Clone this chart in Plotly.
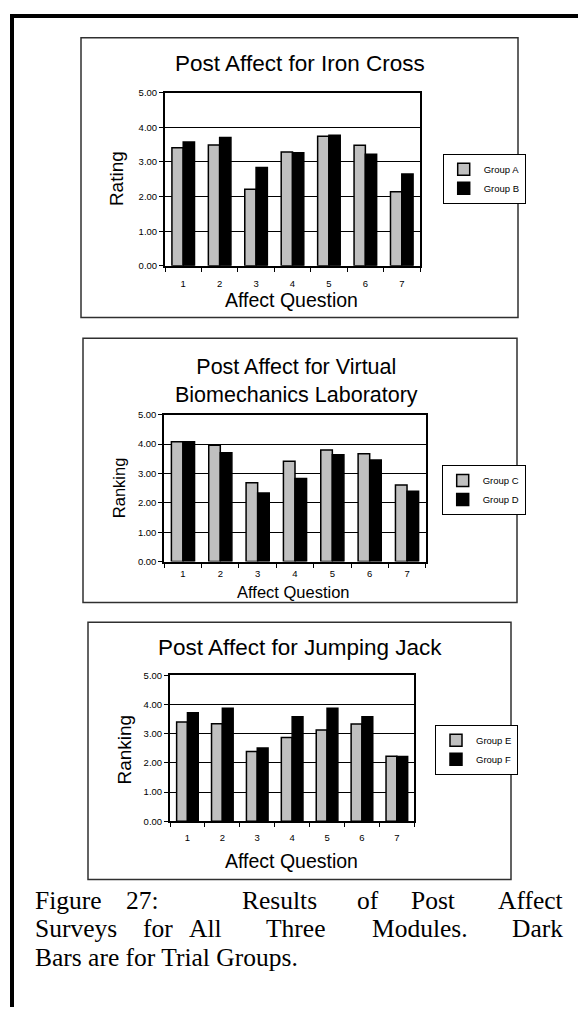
import plotly.graph_objects as go

W, H = 578, 1012

questions = ["1", "2", "3", "4", "5", "6", "7"]
tick_vals = [0, 1, 2, 3, 4, 5]
tick_text = ["0.00", "1.00", "2.00", "3.00", "4.00", "5.00"]

iron_group_a = [3.41, 3.49, 2.21, 3.29, 3.74, 3.48, 2.14]
iron_group_b = [3.58, 3.71, 2.84, 3.27, 3.77, 3.22, 2.65]
vbl_group_c = [4.08, 3.96, 2.69, 3.42, 3.80, 3.67, 2.61]
vbl_group_d = [4.08, 3.71, 2.34, 2.83, 3.64, 3.46, 2.40]
jj_group_e = [3.40, 3.34, 2.39, 2.87, 3.13, 3.33, 2.23]
jj_group_f = [3.72, 3.87, 2.51, 3.58, 3.87, 3.58, 2.22]

titles = ["Post Affect for Iron Cross",
          "Post Affect for Virtual<br>Biomechanics Laboratory",
          "Post Affect for Jumping Jack"]
y_titles = ["Rating", "Ranking", "Ranking"]
x_title = "Affect Question"
series_names = [("Group A", "Group B"), ("Group C", "Group D"), ("Group E", "Group F")]
series_vals = [(iron_group_a, iron_group_b), (vbl_group_c, vbl_group_d), (jj_group_e, jj_group_f)]

SANS = "Liberation Sans, Arial, sans-serif"
SERIF = "Liberation Serif, Times New Roman, serif"
LIGHT = "#c0c0c0"
DARK = "#000000"


def px(x):
    return x / W


def py(y):
    return 1 - y / H


# layout geometry (pixels)
plot_x = [(165, 420), (164.3, 425.7), (170, 414.3)]
plot_y = [(87.7, 262.7), (413.3, 561.7), (676.7, 824.3)]
boxes = [(81, 32, 518, 315), (83, 336, 517, 603), (88, 623, 511, 883)]
legend_pos = [(442.7, 149.3), (441.7, 464), (435, 726.7)]
title_pos = [(299.5, 58, 22.5), (296.7, 379, 21.5), (300, 649, 22.5)]
ytitle_pos = [(116, 175, 19), (119, 487.5, 16.5), (125, 751.7, 19)]
xtitle_pos = [(291.7, 297, 19.5), (293.7, 592, 16.5), (291.7, 864.5, 19.5)]
standoffs = [8, 2, 6]

fig = go.Figure()
layout = dict(width=W, height=H, margin=dict(l=0, r=0, t=0, b=0),
              paper_bgcolor="white", plot_bgcolor="white",
              barmode="group", bargap=0.38, bargroupgap=0.0,
              font=dict(family=SANS, color="black"))
annotations = []
shapes = []

for i in range(3):
    sfx = "" if i == 0 else str(i + 1)
    xa, ya = "x" + sfx, "y" + sfx
    leg = "legend" + sfx
    (na, nb), (va, vb) = series_names[i], series_vals[i]
    fig.add_trace(go.Bar(x=questions, y=va, name=na, xaxis=xa, yaxis=ya, legend=leg,
                         marker=dict(color=LIGHT, line=dict(color="black", width=1.5))))
    fig.add_trace(go.Bar(x=questions, y=vb, name=nb, xaxis=xa, yaxis=ya, legend=leg,
                         marker=dict(color=DARK, line=dict(color="black", width=1.5))))
    x0, x1 = plot_x[i]
    y0, y1 = plot_y[i]
    layout["xaxis" + sfx] = dict(domain=[px(x0), px(x1)], anchor=ya, type="category",
                                 showline=True, mirror=True, linecolor="black", linewidth=2,
                                 ticks="outside", tickson="boundaries", ticklen=4,
                                 tickcolor="black", tickwidth=1, showgrid=False,
                                 tickfont=dict(size=9.5, family=SANS),
                                 ticklabelstandoff=standoffs[i], fixedrange=True)
    layout["yaxis" + sfx] = dict(domain=[py(y1), py(y0)], anchor=xa, range=[0, 5],
                                 tickvals=tick_vals, ticktext=tick_text,
                                 showline=True, mirror=True, linecolor="black", linewidth=2,
                                 ticks="outside", ticklen=4, tickcolor="black", tickwidth=1,
                                 showgrid=True, gridcolor="black", gridwidth=1,
                                 zeroline=False, tickfont=dict(size=9.5, family=SANS),
                                 fixedrange=True)
    lx, ly = legend_pos[i]
    layout[leg] = dict(x=px(lx), y=py(ly), xanchor="left", yanchor="top",
                       bgcolor="white", bordercolor="black", borderwidth=1,
                       font=dict(size=9.5, family=SANS), itemwidth=30,
                       tracegroupgap=0)
    bx0, by0, bx1, by1 = boxes[i]
    shapes.append(dict(type="rect", xref="paper", yref="paper",
                       x0=px(bx0), x1=px(bx1), y0=py(by1), y1=py(by0),
                       line=dict(color="#303030", width=1.5), layer="below"))
    tx, ty, ts = title_pos[i]
    annotations.append(dict(text=titles[i], x=px(tx), y=py(ty), xref="paper", yref="paper",
                            xanchor="center", yanchor="middle", showarrow=False,
                            font=dict(size=ts, family=SANS)))
    yx, yy, ys = ytitle_pos[i]
    annotations.append(dict(text=y_titles[i], x=px(yx), y=py(yy), xref="paper", yref="paper",
                            xanchor="center", yanchor="middle", showarrow=False, textangle=-90,
                            font=dict(size=ys, family=SANS)))
    xx, xy, xs = xtitle_pos[i]
    annotations.append(dict(text=x_title, x=px(xx), y=py(xy), xref="paper", yref="paper",
                            xanchor="center", yanchor="middle", showarrow=False,
                            font=dict(size=xs, family=SANS)))

# page frame (left and top rules)
shapes.append(dict(type="line", xref="paper", yref="paper", x0=px(12), x1=px(12),
                   y0=py(1012), y1=py(8), line=dict(color="black", width=4)))
shapes.append(dict(type="line", xref="paper", yref="paper", x0=px(10), x1=px(578),
                   y0=py(10), y1=py(10), line=dict(color="black", width=4)))

# justified caption
caption_lines = [
    (["Figure", "27:", "Results", "of", "Post", "Affect"], [33, 142.5, 279, 367.5, 432.5, 565], 904),
    (["Surveys", "for", "All", "Three", "Modules.", "Dark"], [33, 157.5, 205, 295, 419.5, 565], 933),
    (["Bars are for Trial Groups."], [33], 962),
]
for words, xs_, yline in caption_lines:
    n = len(words)
    for j, (wd, wx) in enumerate(zip(words, xs_)):
        if j == 0:
            anchor = "left"
        elif j == n - 1:
            anchor = "right"
        else:
            anchor = "center"
        annotations.append(dict(text=wd, x=px(wx), y=py(yline), xref="paper", yref="paper",
                                xanchor=anchor, yanchor="middle", showarrow=False,
                                font=dict(size=25.5, family=SERIF, color="black")))

layout["annotations"] = annotations
layout["shapes"] = shapes
fig.update_layout(**layout)
fig.write_html("out.html", config={"displayModeBar": False},
               post_script="document.body.style.margin='0';document.body.style.overflow='hidden';")
